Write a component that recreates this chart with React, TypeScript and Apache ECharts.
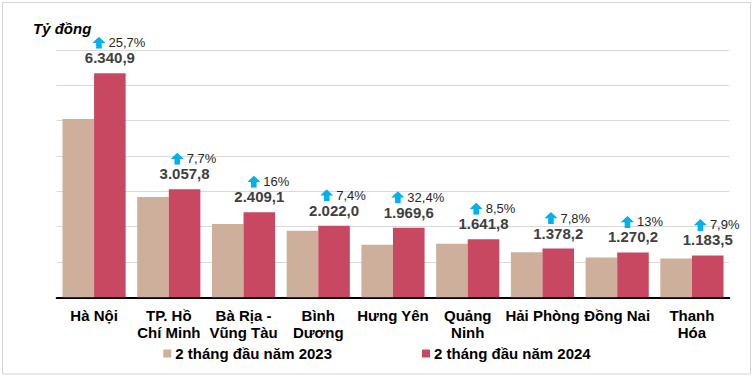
import React, { useEffect, useRef } from "react";
import * as echarts from "echarts";

const categories = [
  "Hà Nội",
  "TP. Hồ\nChí Minh",
  "Bà Rịa -\nVũng Tàu",
  "Bình\nDương",
  "Hưng Yên",
  "Quảng\nNinh",
  "Hải Phòng",
  "Đồng Nai",
  "Thanh\nHóa",
];
const values2023 = [5045, 2839, 2077, 1883, 1488, 1513, 1278, 1124, 1097];
const values2024 = [6340.9, 3057.8, 2409.1, 2022.0, 1969.6, 1641.8, 1378.2, 1270.2, 1183.5];
const growth = ["25,7%", "7,7%", "16%", "7,4%", "32,4%", "8,5%", "7,8%", "13%", "7,9%"];
const seriesNames = ["2 tháng đầu năm 2023", "2 tháng đầu năm 2024"];
const yTicks = [0, 1000, 2000, 3000, 4000, 5000, 6000, 7000];

const FONT = "'Liberation Sans', Arial, sans-serif";

const arrowSvg =
  "<svg xmlns='http://www.w3.org/2000/svg' width='13' height='12' viewBox='0 0 13 12'>" +
  "<polygon points='6.5,0 13,6.2 9.3,6.2 9.3,12 3.7,12 3.7,6.2 0,6.2' fill='#00B0F0'/></svg>";
const arrowUrl = "data:image/svg+xml;charset=utf-8," + encodeURIComponent(arrowSvg);

function fmt(n: number): string {
  const [i, d] = n.toFixed(1).split(".");
  return i.replace(/\B(?=(\d{3})+(?!\d))/g, ".") + "," + d;
}

export default function App() {
  const ref = useRef<HTMLDivElement>(null);
  useEffect(() => {
    if (!ref.current) return;
    const chart = echarts.init(ref.current, undefined, { renderer: "svg" });
    chart.setOption({
      animation: false,
      backgroundColor: "#ffffff",
      textStyle: { fontFamily: FONT },
      title: {
        text: "Tỷ đồng",
        left: 28,
        top: 16,
        textStyle: {
          fontFamily: FONT,
          fontSize: 15,
          fontStyle: "italic",
          fontWeight: "bold",
          color: "#000000",
        },
      },
      graphic: [
        {
          type: "rect",
          shape: { x: 2.5, y: 2.5, width: 748, height: 371.5 },
          style: { fill: "none", stroke: "#d4d4d4", lineWidth: 1 },
          silent: true,
        },
      ],
      legend: {
        data: seriesNames,
        left: "center",
        top: 341,
        itemWidth: 8,
        itemHeight: 8,
        itemGap: 90,
        icon: "rect",
        textStyle: {
          fontFamily: FONT,
          fontSize: 15,
          fontWeight: "bold",
          color: "#000000",
          padding: [0, 0, 0, -1],
        },
      },
      grid: { left: 56.7, right: 24.7, top: 50, bottom: 80.7, containLabel: false },
      xAxis: {
        type: "category",
        data: categories,
        axisTick: { show: false },
        axisLine: { lineStyle: { color: "#000000", width: 2 } },
        axisLabel: {
          interval: 0,
          margin: 10,
          fontFamily: FONT,
          fontSize: 15,
          fontWeight: "bold",
          color: "#000000",
          lineHeight: 17,
        },
      },
      yAxis: {
        type: "value",
        min: yTicks[0],
        max: yTicks[yTicks.length - 1],
        interval: yTicks[1] - yTicks[0],
        axisLabel: { show: false },
        axisLine: { show: false },
        axisTick: { show: false },
        splitLine: { lineStyle: { color: "#d9d9d9", width: 1 } },
      },
      series: [
        {
          name: seriesNames[0],
          type: "bar",
          data: values2023,
          barGap: "0%",
          barCategoryGap: "15.5%",
          itemStyle: { color: "#CDAF9B" },
        },
        {
          name: seriesNames[1],
          type: "bar",
          data: values2024,
          barGap: "0%",
          barCategoryGap: "15.5%",
          itemStyle: { color: "#C84862" },
          label: {
            show: true,
            position: "top",
            distance: 8,
            formatter: (p: any) =>
              `{sp|}{arr|}{pct|${growth[p.dataIndex]}}\n{val|${fmt(p.value)}}`,
            rich: {
              sp: { width: 18, height: 12 },
              arr: {
                width: 13,
                height: 12,
                backgroundColor: { image: arrowUrl },
              },
              pct: {
                fontFamily: FONT,
                fontSize: 13,
                color: "#262626",
                padding: [0, 0, 0, 3],
                lineHeight: 15,
              },
              val: {
                fontFamily: FONT,
                fontSize: 15,
                fontWeight: "bold",
                color: "#404040",
                lineHeight: 15,
              },
            },
          },
        },
      ],
    });
    return () => chart.dispose();
  }, []);
  return (
    <div
      ref={ref}
      style={{ position: "fixed", left: 0, top: 0, width: 754, height: 378 }}
    />
  );
}
